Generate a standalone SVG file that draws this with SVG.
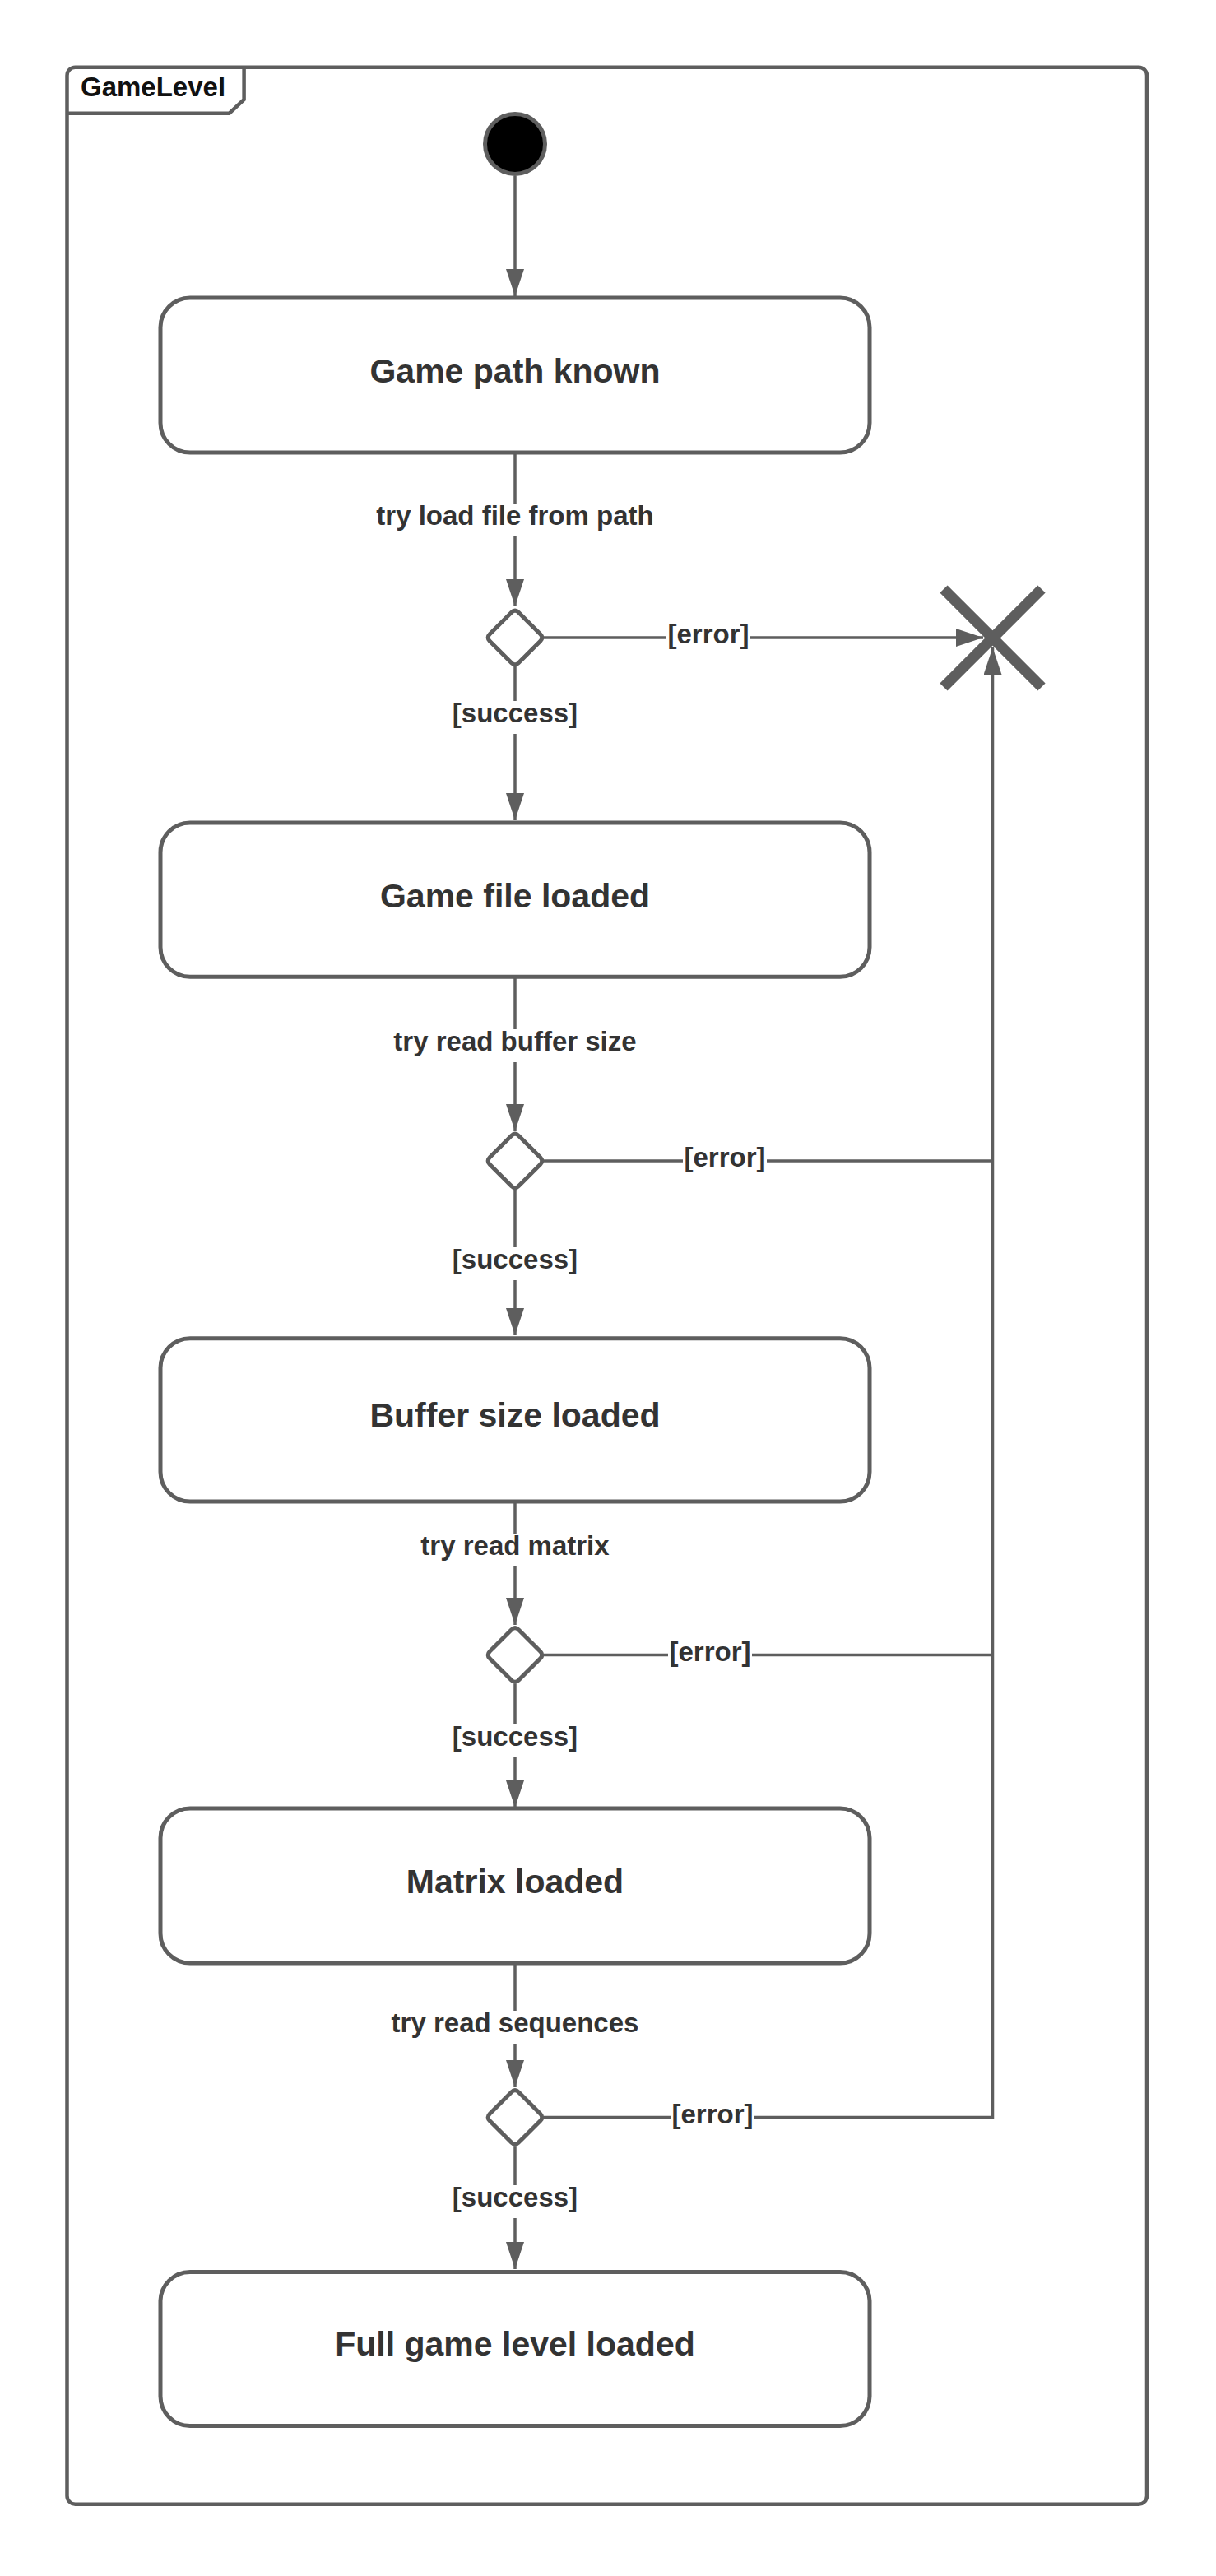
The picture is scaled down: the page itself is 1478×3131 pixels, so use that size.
<svg xmlns="http://www.w3.org/2000/svg" width="1478" height="3131" viewBox="0 0 1478 3131">
<style>
.frame{fill:none;stroke:#5e5e5e;stroke-width:4.5}
.state{fill:#fff;stroke:#5e5e5e;stroke-width:5}
.dec{fill:#fff;stroke:#5e5e5e;stroke-width:5}
.edge{fill:none;stroke:#5e5e5e;stroke-width:3.5}
.title{font-family:"Liberation Sans",Arial,sans-serif;font-weight:bold;font-size:41px;fill:#333;text-anchor:middle}
.lbl{font-family:"Liberation Sans",Arial,sans-serif;font-weight:bold;font-size:33px;fill:#333;text-anchor:middle}
.bg{fill:#fff}
</style>
<defs>
<marker id="arr" markerUnits="userSpaceOnUse" markerWidth="34" markerHeight="24" refX="33" refY="11" orient="auto">
<path d="M0,0 L33,11 L0,22 Z" fill="#5e5e5e"/>
</marker>
<path id="dia" d="M-4.24,-30.76 Q0,-35 4.24,-30.76 L30.76,-4.24 Q35,0 30.76,4.24 L4.24,30.76 Q0,35 -4.24,30.76 L-30.76,4.24 Q-35,0 -30.76,-4.24 Z"/>
</defs>
<rect width="1478" height="3131" fill="#fff"/>
<g id="frame">
<rect class="frame" x="81.5" y="81.7" width="1312.5" height="2962" rx="10"/>
<path class="frame" d="M81.5,137.7 L278.7,137.7 L296.6,121 L296.6,81.7"/>
<text x="98" y="117" style="font-family:'Liberation Sans',Arial,sans-serif;font-weight:bold;font-size:33px;fill:#111">GameLevel</text>
</g>
<g id="connectors">
<path class="edge" d="M626,214 V360" marker-end="url(#arr)"/>
<path class="edge" d="M626,550 V737" marker-end="url(#arr)"/>
<path class="edge" d="M626,810 V997" marker-end="url(#arr)"/>
<path class="edge" d="M661,775 H1195" marker-end="url(#arr)"/>
<path class="edge" d="M626,1187 V1375" marker-end="url(#arr)"/>
<path class="edge" d="M626,1446 V1623" marker-end="url(#arr)"/>
<path class="edge" d="M661,1411 H1206.5"/>
<path class="edge" d="M626,1825 V1975" marker-end="url(#arr)"/>
<path class="edge" d="M626,2046.5 V2197" marker-end="url(#arr)"/>
<path class="edge" d="M661,2011.5 H1206.5"/>
<path class="edge" d="M626,2386 V2537" marker-end="url(#arr)"/>
<path class="edge" d="M626,2608.5 V2758" marker-end="url(#arr)"/>
<path class="edge" d="M661,2573.5 H1206.5 V787" marker-end="url(#arr)"/>
<rect class="bg" x="455" y="612" width="342" height="40"/>
<text class="lbl" x="626" y="638">try load file from path</text>
<rect class="bg" x="548" y="852" width="156" height="40"/>
<text class="lbl" x="626" y="878">[success]</text>
<rect class="bg" x="810" y="756" width="102" height="40"/>
<text class="lbl" x="861" y="782">[error]</text>
<rect class="bg" x="476" y="1251" width="300" height="40"/>
<text class="lbl" x="626" y="1277">try read buffer size</text>
<rect class="bg" x="830" y="1392" width="102" height="40"/>
<text class="lbl" x="881" y="1418">[error]</text>
<rect class="bg" x="548" y="1516" width="156" height="40"/>
<text class="lbl" x="626" y="1542">[success]</text>
<rect class="bg" x="510" y="1864" width="232" height="40"/>
<text class="lbl" x="626" y="1890">try read matrix</text>
<rect class="bg" x="812" y="1992" width="102" height="40"/>
<text class="lbl" x="863" y="2018.5">[error]</text>
<rect class="bg" x="548" y="2096" width="156" height="40"/>
<text class="lbl" x="626" y="2122">[success]</text>
<rect class="bg" x="474" y="2444" width="304" height="40"/>
<text class="lbl" x="626" y="2470">try read sequences</text>
<rect class="bg" x="815" y="2554" width="102" height="40"/>
<text class="lbl" x="866" y="2580.5">[error]</text>
<rect class="bg" x="548" y="2656" width="156" height="40"/>
<text class="lbl" x="626" y="2682">[success]</text>
</g>
<g id="initial">
<circle cx="626" cy="175" r="36.5" fill="#000" stroke="#5e5e5e" stroke-width="5"/>
</g>
<g id="state-game-path-known">
<rect class="state" x="195" y="362" width="862" height="188" rx="36"/>
<text class="title" x="626" y="465">Game path known</text>
</g>
<g id="decision-1"><use href="#dia" class="dec" x="626" y="775"/></g>
<g id="final">
<path d="M1147,716 L1266,835 M1266,716 L1147,835" stroke="#5e5e5e" stroke-width="13" fill="none"/>
</g>
<g id="state-game-file-loaded">
<rect class="state" x="195" y="1000" width="862" height="187.3" rx="36"/>
<text class="title" x="626" y="1102.6">Game file loaded</text>
</g>
<g id="decision-2"><use href="#dia" class="dec" x="626" y="1411"/></g>
<g id="state-buffer-size-loaded">
<rect class="state" x="195" y="1626.7" width="862" height="198.3" rx="36"/>
<text class="title" x="626" y="1734">Buffer size loaded</text>
</g>
<g id="decision-3"><use href="#dia" class="dec" x="626" y="2011.5"/></g>
<g id="state-matrix-loaded">
<rect class="state" x="195" y="2198" width="862" height="188" rx="36"/>
<text class="title" x="626" y="2300.5">Matrix loaded</text>
</g>
<g id="decision-4"><use href="#dia" class="dec" x="626" y="2573.5"/></g>
<g id="state-full-game-level-loaded">
<rect class="state" x="195" y="2761.5" width="862" height="187" rx="36"/>
<text class="title" x="626" y="2863.3">Full game level loaded</text>
</g>
</svg>
